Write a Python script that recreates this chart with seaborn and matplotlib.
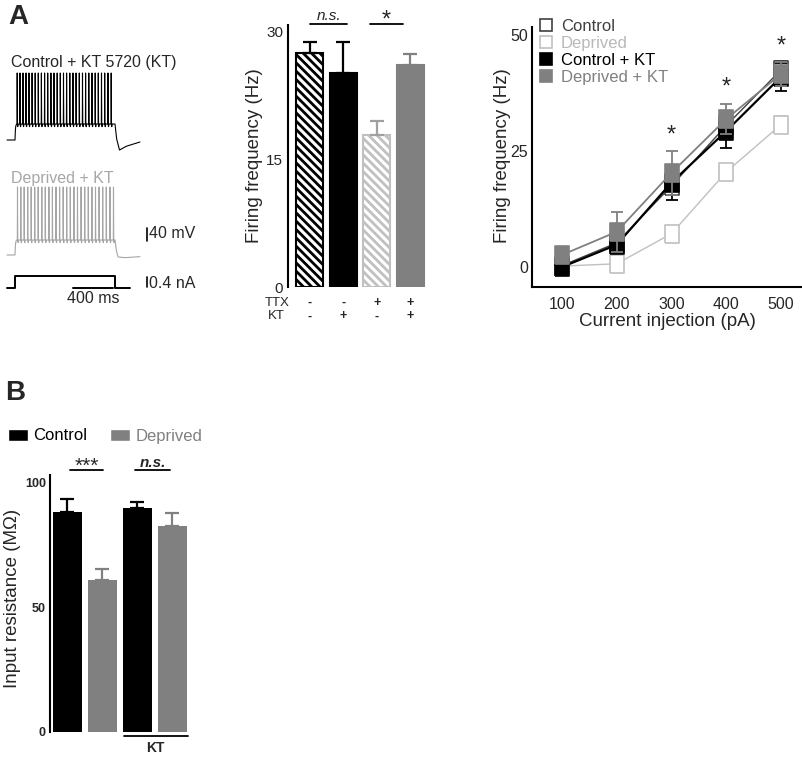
import numpy as np
import pandas as pd
import matplotlib
matplotlib.use("Agg")
import matplotlib.pyplot as plt
import seaborn as sns
from matplotlib.lines import Line2D
from matplotlib.patches import Patch

# ---------------- data ----------------
# Panel A, middle: firing frequency at 400 pA
freq_groups = ["Control", "Control + KT", "Deprived", "Deprived + KT"]
freq_mean = [27.5, 25.2, 17.9, 26.1]
freq_sem = [1.3, 3.6, 1.6, 1.3]
ttx_signs = ["-", "-", "+", "+"]
kt_signs = ["-", "+", "-", "+"]

# Panel A, right: F-I curves
current_pA = [100, 200, 300, 400, 500]
ctrl_mean = [0.3, 5.2, 17.5, 30.5, 42.5]
ctrl_sem = [0.8, 1.5, 2.0, 2.0, 1.8]
depr_mean = [0.2, 0.7, 7.2, 20.5, 30.7]
depr_sem = [0.5, 0.6, 1.0, 1.8, 1.8]
ctrlkt_mean = [0.0, 4.8, 18.2, 29.3, 41.0]
ctrlkt_sem = [1.0, 1.2, 3.8, 3.7, 3.0]
deprkt_mean = [2.6, 7.6, 20.3, 31.9, 41.6]
deprkt_sem = [1.8, 4.3, 4.8, 3.3, 2.6]
star_x = [300, 400, 500]
star_y = [27.0, 37.3, 46.2]

# Panel B: input resistance
rin_groups = ["Control", "Deprived", "Control KT", "Deprived KT"]
rin_mean = [88.2, 61.0, 90.0, 82.9]
rin_sem = [5.2, 4.3, 2.4, 4.9]

# Example traces (spike times in ms during a 1000 ms step)
ctrl_spike_times = [22, 50, 80, 110, 140, 171, 202, 233, 264, 296, 327, 359, 390,
                    422, 453, 485, 516, 548, 580, 611, 643, 675, 706, 738, 770,
                    802, 833, 865, 897, 930, 962]
depr_spike_times = [25, 58, 92, 127, 162, 197, 232, 268, 303, 339, 374, 410, 446,
                    482, 517, 553, 589, 625, 661, 697, 733, 769, 805, 841, 877,
                    913, 950, 985]

# ---------------- style ----------------
sns.set_style("white")
plt.rcParams["font.family"] = ["Liberation Sans", "DejaVu Sans"]
plt.rcParams["hatch.linewidth"] = 2.0

BLACK = "#000000"
GRAY = "#808080"
LGRAY = "#c0c0c0"
DGRAY = "#404040"

W, H = 803, 758
fig = plt.figure(figsize=(W / 100, H / 100), dpi=100)


def px_axes(x0, y0, x1, y1):
    return fig.add_axes([x0 / W, 1 - y1 / H, (x1 - x0) / W, (y1 - y0) / H])


fig.text(8 / W, 1 - 17 / H, "A", fontsize=20, fontweight="bold", va="center", ha="left")
fig.text(5 / W, 1 - 393 / H, "B", fontsize=20, fontweight="bold", va="center", ha="left")

# ---------------- traces ----------------
axt = px_axes(0, 50, 160, 305)
axt.set_xlim(-150, 1450)
axt.set_ylim(0, 765)
axt.axis("off")

t = np.arange(-80, 1250, 0.25)


def make_trace(spikes, base, plateau, peak, post_t, post_v):
    v = np.full(t.shape, float(base))
    on = (t >= 0) & (t <= 1000)
    v[on] = plateau - (plateau - base) * np.exp(-t[on] / 4.0)
    for st in spikes:
        d = t - st
        m = np.abs(d) < 1.6
        v[m] = plateau + (peak - plateau) * (1 - np.abs(d[m]) / 1.6)
        m2 = (d >= 1.6) & (d < 9) & (t <= 1000)
        v[m2] = plateau - 8 * np.sin(np.pi * (d[m2] - 1.6) / 7.4)
    off = t > 1000
    v[off] = np.interp(t[off], post_t, post_v)
    return v


v_ctrl = make_trace(ctrl_spike_times, 495, 543, 696,
                    [1000, 1015, 1045, 1110, 1250], [543, 500, 465, 476, 489])
v_depr = make_trace(depr_spike_times, 150, 195, 354,
                    [1000, 1012, 1030, 1100, 1250], [195, 165, 144, 142, 145])
axt.plot(t, v_ctrl, color=BLACK, lw=0.8)
axt.plot(t, v_depr, color="#a6a6a6", lw=0.8)
# current step
ts = [-80, 0, 0, 1000, 1000, 1150]
vs = [51, 51, 87, 87, 51, 51]
axt.plot(ts, vs, color=BLACK, lw=1.4)
# scale bars
axt.plot([580, 980], [51, 51], color=BLACK, lw=1.4)
axt.plot([1320, 1320], [192, 232], color=BLACK, lw=1.2)
axt.plot([1320, 1320], [54, 84], color=BLACK, lw=1.2)
axt.text(1345, 213, "40 mV", fontsize=11.5, va="center", ha="left")
axt.text(1345, 66, "0.4 nA", fontsize=11.5, va="center", ha="left")
axt.text(780, 21, "400 ms", fontsize=11.5, va="center", ha="center")
axt.text(-40, 726, "Control + KT 5720 (KT)", fontsize=11.5, va="center", ha="left")
axt.text(-40, 381, "Deprived + KT", fontsize=11.5, va="center", ha="left", color="#a6a6a6")

# ---------------- panel A middle: bars ----------------
axm = px_axes(288, 25, 428, 287)
dfm = pd.DataFrame({"group": freq_groups, "freq": freq_mean})
sns.barplot(data=dfm, x="group", y="freq", hue="group", order=freq_groups,
            hue_order=freq_groups, palette=[BLACK, BLACK, GRAY, GRAY],
            width=0.8, errorbar=None, legend=False, ax=axm)
bars = sorted(axm.patches, key=lambda p: p.get_x())
faces = ["white", BLACK, "white", GRAY]
edges = [BLACK, BLACK, LGRAY, GRAY]
hatches = ["\\\\\\\\", None, "\\\\\\\\", None]
for p, fc, ec, h in zip(bars, faces, edges, hatches):
    p.set_facecolor(fc)
    p.set_edgecolor(ec)
    p.set_linewidth(1.5)
    if h:
        p.set_hatch(h)
        if hasattr(p, "set_hatch_linewidth"):
            p.set_hatch_linewidth(2.0)
xm = np.arange(len(freq_groups))
err_cols = [BLACK, BLACK, "#a0a0a0", GRAY]
for i in range(len(freq_groups)):
    axm.errorbar(xm[i], freq_mean[i], yerr=[[0], [freq_sem[i]]], fmt="none",
                 ecolor=err_cols[i], elinewidth=1.6, capsize=5, capthick=1.6, zorder=1)
axm.set_xlim(-0.64, 3.52)
axm.set_ylim(0, 30.8)
axm.set_yticks([0, 15, 30])
axm.set_yticklabels(["0", "15", "30"], fontsize=11)
axm.tick_params(axis="y", length=0, pad=3.5)
axm.set_xticks([])
axm.set_xlabel("")
for s in ["top", "right", "bottom"]:
    axm.spines[s].set_visible(False)
axm.spines["left"].set_linewidth(1.5)
axm.spines["left"].set_color(BLACK)
axm.set_ylabel("Firing frequency (Hz)", fontsize=13.5, va="center")
axm.yaxis.set_label_coords(-0.236, 0.5)
# significance
axm.plot([0.0, 1.1], [30.9, 30.9], color=BLACK, lw=1.3, clip_on=False)
axm.plot([1.8, 2.78], [30.9, 30.9], color=BLACK, lw=1.3, clip_on=False)
axm.text(0.58, 31.4, "n.s.", fontsize=11, style="italic", ha="center", va="baseline")
axm.text(2.27, 30.6, "*", fontsize=17, ha="center", va="baseline")
# condition table
axm.text(-1.33, -1.85, "TTX", fontsize=9.5, ha="left", va="center", clip_on=False)
axm.text(-1.24, -3.45, "KT", fontsize=9.5, ha="left", va="center", clip_on=False)
for i in range(len(freq_groups)):
    axm.text(xm[i], -1.85, ttx_signs[i], fontsize=9, fontweight="bold",
             ha="center", va="center")
    axm.text(xm[i], -3.45, kt_signs[i], fontsize=9, fontweight="bold",
             ha="center", va="center")

# ---------------- panel A right: F-I curves ----------------
axr = px_axes(532, 27, 802, 287)
rect = [(-0.78, -1), (0.78, -1), (0.78, 1), (-0.78, 1), (-0.78, -1)]
series = [
    ("Control", ctrl_mean, ctrl_sem, "white", DGRAY, DGRAY, 1.0),
    ("Deprived", depr_mean, depr_sem, "white", LGRAY, LGRAY, 1.0),
    ("Control + KT", ctrlkt_mean, ctrlkt_sem, BLACK, BLACK, BLACK, 1.6),
    ("Deprived + KT", deprkt_mean, deprkt_sem, GRAY, GRAY, GRAY, 1.3),
]
rows = []
for name, m, s, fc, ec, lc, lw in series:
    for c, v in zip(current_pA, m):
        rows.append({"current": c, "rate": v, "group": name})
dfr = pd.DataFrame(rows)
for k, (name, m, s, fc, ec, lc, lw) in enumerate(series):
    z = 2 + k
    sub = dfr[dfr["group"] == name]
    sns.lineplot(data=sub, x="current", y="rate", color=lc, lw=lw, ax=axr,
                 legend=False, zorder=z)
    axr.errorbar(current_pA, m, yerr=s, fmt="none", ecolor=ec, elinewidth=1.3,
                 capsize=4, capthick=1.3, zorder=z)
    axr.plot(current_pA, m, ls="none", marker=rect, markersize=13, mfc=fc,
             mec=ec, mew=1.2, zorder=z + 0.5)
for sx, sy in zip(star_x, star_y):
    axr.text(sx, sy, "*", fontsize=17, ha="center", va="baseline")
axr.set_xlim(45.5, 538)
axr.set_ylim(-4.3, 51.7)
axr.set_xticks(current_pA)
axr.set_xticklabels([str(c) for c in current_pA], fontsize=11.5)
axr.set_yticks([0, 25, 50])
axr.set_yticklabels(["0", "25", "50"], fontsize=11.5)
axr.tick_params(axis="x", length=0, pad=7)
axr.tick_params(axis="y", length=0, pad=3)
for s in ["top", "right"]:
    axr.spines[s].set_visible(False)
for s in ["left", "bottom"]:
    axr.spines[s].set_linewidth(1.5)
    axr.spines[s].set_color(BLACK)
axr.set_xlabel("Current injection (pA)", fontsize=13.5)
axr.xaxis.set_label_coords(0.5, -0.1)
axr.set_ylabel("Firing frequency (Hz)", fontsize=13.5, va="center")
axr.yaxis.set_label_coords(-0.111, 0.504)
handles = [Line2D([], [], ls="none", marker="s", markersize=9, mfc=fc, mec=ec, mew=1.2)
           for (_, _, _, fc, ec, _, _) in series]
leg = axr.legend(handles, [sr[0] for sr in series], loc="upper left",
                 bbox_to_anchor=(0.02, 1.03), frameon=False, fontsize=12,
                 borderpad=0, borderaxespad=0, handletextpad=0.4,
                 handlelength=1.0, labelspacing=0.12)
for txt, col in zip(leg.get_texts(), [DGRAY, "#b8b8b8", BLACK, GRAY]):
    txt.set_color(col)

# ---------------- panel B ----------------
axb = px_axes(50, 475, 190, 732)
dfb = pd.DataFrame({"group": rin_groups, "rin": rin_mean})
sns.barplot(data=dfb, x="group", y="rin", hue="group", order=rin_groups,
            hue_order=rin_groups, palette=[BLACK, GRAY, BLACK, GRAY],
            width=0.83, errorbar=None, legend=False, ax=axb)
for p in axb.patches:
    p.set_edgecolor("none")
xb = np.arange(len(rin_groups))
bcols = [BLACK, GRAY, BLACK, GRAY]
for i in range(len(rin_groups)):
    axb.errorbar(xb[i], rin_mean[i], yerr=[[0], [rin_sem[i]]], fmt="none",
                 ecolor=bcols[i], elinewidth=1.6, capsize=5, capthick=1.6, zorder=1)
axb.set_xlim(-0.5, 3.5)
axb.set_ylim(0, 103.2)
axb.set_yticks([0, 50, 100])
axb.set_yticklabels(["0", "50", "100"], fontsize=9, fontweight="bold")
axb.tick_params(axis="y", length=0, pad=3)
axb.set_xticks([])
axb.set_xlabel("")
for s in ["top", "right", "bottom"]:
    axb.spines[s].set_visible(False)
axb.spines["left"].set_linewidth(1.5)
axb.spines["left"].set_color(BLACK)
axb.set_ylabel("Input resistance (MΩ)", fontsize=13.5, va="center")
axb.yaxis.set_label_coords(-0.271, 0.52)
axb.plot([0.07, 1.01], [105.2, 105.2], color=BLACK, lw=1.3, clip_on=False)
axb.plot([1.93, 2.93], [105.2, 105.2], color=BLACK, lw=1.3, clip_on=False)
axb.text(0.54, 104.6, "***", fontsize=15, ha="center", va="baseline")
axb.text(2.43, 106.6, "n.s.", fontsize=11, style="italic", fontweight="bold",
         ha="center", va="baseline")
axb.plot([1.61, 3.44], [-1.6, -1.6], color=BLACK, lw=1.3, clip_on=False)
axb.text(2.5, -6.4, "KT", fontsize=10, fontweight="bold", ha="center", va="center")
legb = fig.legend([Patch(facecolor=BLACK), Patch(facecolor=GRAY)], ["Control", "Deprived"],
                  loc="center left", bbox_to_anchor=(8 / W, 1 - 436 / H), ncol=2,
                  frameon=False, fontsize=12, borderpad=0, borderaxespad=0,
                  handlelength=1.2, handleheight=0.7, handletextpad=0.3,
                  columnspacing=1.4)
for txt, col in zip(legb.get_texts(), [BLACK, GRAY]):
    txt.set_color(col)

fig.savefig("out.png", dpi=100)
